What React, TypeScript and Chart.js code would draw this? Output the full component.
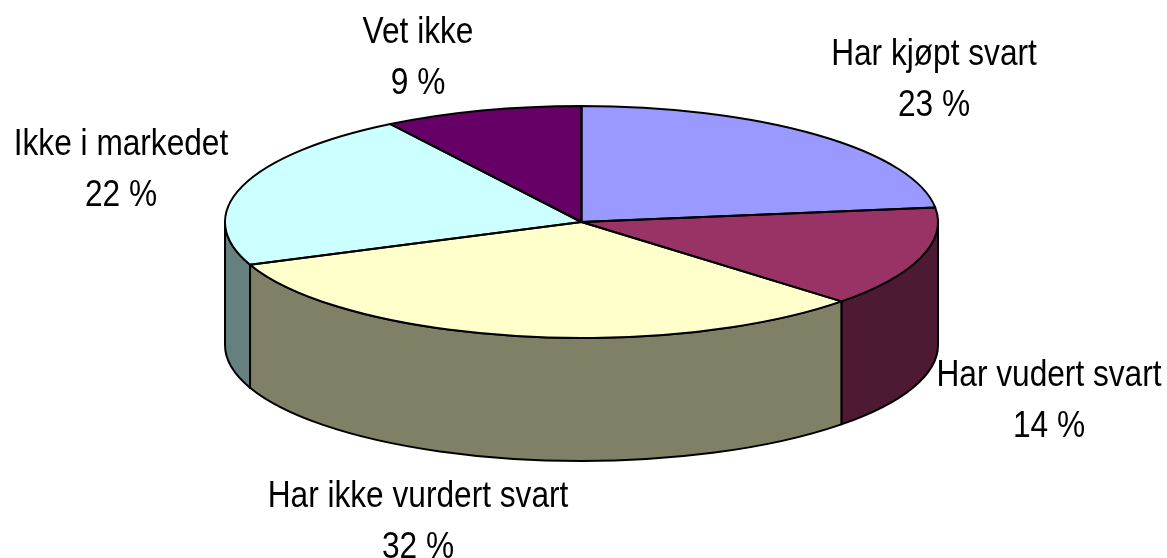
import React, { useEffect, useRef } from "react";
import { Chart, registerables } from "chart.js";

Chart.register(...registerables);

const categories = ["Har kjøpt svart", "Har vudert svart", "Har ikke vurdert svart", "Ikke i markedet", "Vet ikke"];
const shares = [23, 14, 32, 22, 9];
const topColors = ["#9999FF", "#993366", "#FFFFCC", "#CCFFFF", "#660066"];
const wallColors = ["#4D4D80", "#4D1933", "#808066", "#668080", "#330033"];

// Layout of the tilted disc and of the two-line labels (centre x, first baseline y).
const disc = { cx: 581.5, cy: 222, rx: 356.5, ry: 116, depth: 123 };
const labelAnchors = [
  [934, 65],
  [1049, 386],
  [418, 507],
  [121, 155],
  [418, 43],
];
const lineGap = 51;
const fontSize = 37;
const textSqueeze = 0.855;

const tiltedPie = {
  id: "tiltedPie",
  beforeDatasetsDraw(chart: any) {
    const { ctx } = chart;
    const arcs = chart.getDatasetMeta(0).data;
    const { cx, cy, rx, ry, depth } = disc;
    ctx.save();
    ctx.lineWidth = 2;
    ctx.strokeStyle = "#000";
    ctx.lineJoin = "round";
    arcs.forEach((arc: any, i: number) => {
      const a0 = Math.max(arc.startAngle, 0);
      const a1 = Math.min(arc.endAngle, Math.PI);
      if (a1 <= a0) return;
      ctx.beginPath();
      ctx.ellipse(cx, cy, rx, ry, 0, a0, a1);
      ctx.ellipse(cx, cy + depth, rx, ry, 0, a1, a0, true);
      ctx.closePath();
      ctx.fillStyle = wallColors[i];
      ctx.fill();
      ctx.stroke();
    });
    ctx.restore();

    const p = arcs[0];
    ctx.save();
    ctx.translate(cx, cy);
    ctx.scale(rx / p.outerRadius, ry / p.outerRadius);
    ctx.translate(-p.x, -p.y);
  },
  afterDatasetsDraw(chart: any) {
    const { ctx } = chart;
    ctx.restore();
    const arcs = chart.getDatasetMeta(0).data;
    const { cx, cy, rx, ry } = disc;
    ctx.save();
    ctx.lineWidth = 2;
    ctx.strokeStyle = "#000";
    ctx.lineJoin = "round";
    arcs.forEach((arc: any) => {
      ctx.beginPath();
      ctx.moveTo(cx, cy);
      ctx.ellipse(cx, cy, rx, ry, 0, arc.startAngle, arc.endAngle);
      ctx.closePath();
      ctx.stroke();
    });
    ctx.fillStyle = "#000";
    ctx.font = `${fontSize}px "Liberation Sans", Arial, sans-serif`;
    ctx.textAlign = "center";
    ctx.textBaseline = "alphabetic";
    categories.forEach((name, i) => {
      const [x, y] = labelAnchors[i];
      ctx.save();
      ctx.translate(x, y);
      ctx.scale(textSqueeze, 1);
      ctx.fillText(name, 0, 0);
      ctx.fillText(`${shares[i]} %`, 0, lineGap);
      ctx.restore();
    });
    ctx.restore();
  },
};

export default function App() {
  const ref = useRef<HTMLCanvasElement>(null);
  useEffect(() => {
    const chart = new Chart(ref.current!, {
      type: "pie",
      data: {
        labels: categories,
        datasets: [{ data: shares, backgroundColor: topColors, borderWidth: 0 }],
      },
      options: {
        responsive: false,
        animation: false,
        plugins: { legend: { display: false }, tooltip: { enabled: false } },
      },
      plugins: [tiltedPie],
    } as any);
    return () => chart.destroy();
  }, []);
  return (
    <div style={{ position: "absolute", left: 0, top: 0 }}>
      <canvas ref={ref} width={1167} height={558} style={{ display: "block" }} />
    </div>
  );
}
